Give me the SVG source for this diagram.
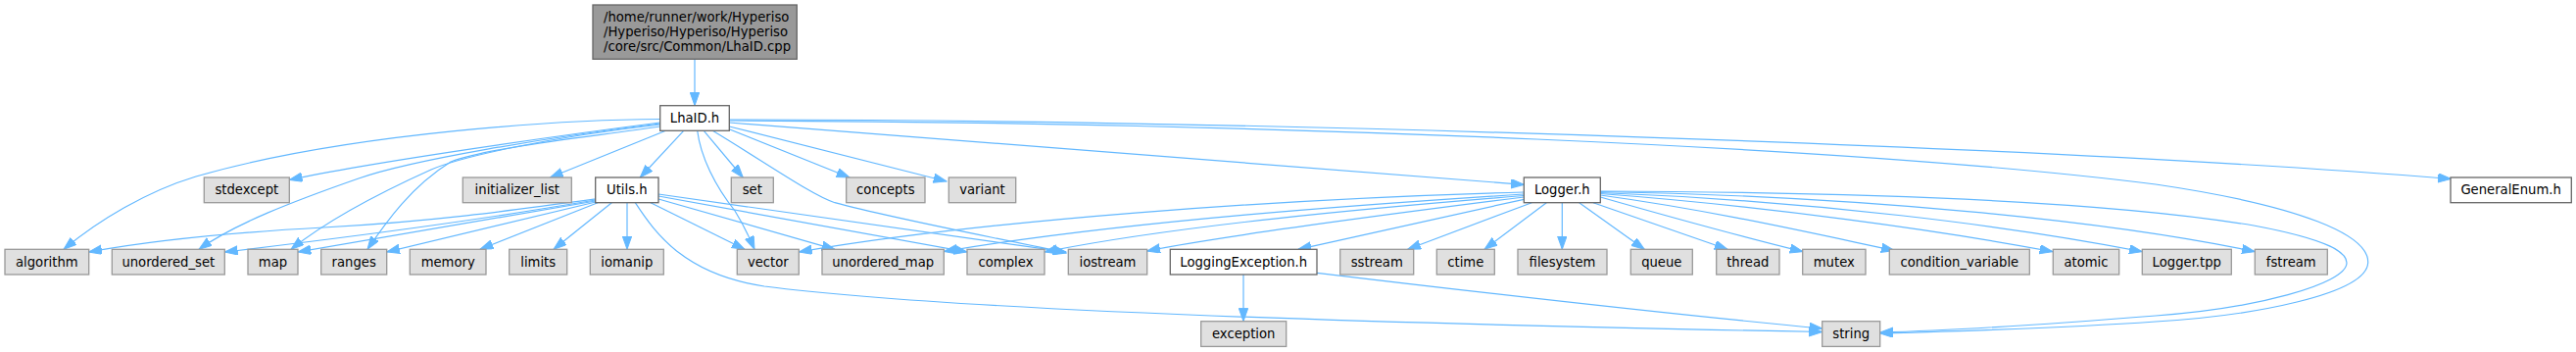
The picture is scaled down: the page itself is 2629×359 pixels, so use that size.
<svg xmlns="http://www.w3.org/2000/svg" width="2629" height="359" viewBox="0 0 2629 359">
<defs>
<style>
.n rect{stroke-width:1.3}
.w rect{fill:#ffffff;stroke:#666666}
.g rect{fill:#e0e0e0;stroke:#999999}
.t rect{fill:#999999;stroke:#666666}
text{font-family:"DejaVu Sans","Liberation Sans",sans-serif;font-size:13.2px;fill:#000000;text-anchor:middle}
#edges path{fill:none;stroke:#63b8ff;stroke-width:1.2;marker-end:url(#ah)}
</style>
<marker id="ah" markerUnits="userSpaceOnUse" markerWidth="14" markerHeight="10" refX="13.3" refY="4.7" orient="auto" viewBox="0 0 14 10">
<path d="M0,0 L13.3,4.7 L0,9.4 z" fill="#63b8ff" stroke="#63b8ff" stroke-width="1"/>
</marker>
</defs>
<rect width="2629" height="359" fill="#ffffff"/>
<g id="edges">
<path d="M709,60.3 L709,107.7"/>
<path d="M673.7,121.5 C586,122 360,134 200,180 C150,195 100,225 65,254.3"/>
<path d="M673.7,125 C580,137 380,165 295.3,183.5"/>
<path d="M673.7,126 C560,140 420,163 366,182 C300,205 240,228 203,254.3"/>
<path d="M673.7,127 C560,140 470,160 440,173 C380,200 330,228 297,254.3"/>
<path d="M673.7,129 C600,140 500,150 460,165 C420,190 395,225 375,254.3"/>
<path d="M679.5,133.3 L561.5,181"/>
<path d="M697.7,133.3 L653.3,181"/>
<path d="M711.7,133.3 C715,160 730,190 750,215 C758,228 764,240 770,254.3"/>
<path d="M718.3,133.3 L758.3,181"/>
<path d="M727.3,133.3 C780,165 830,200 852,206.7 C920,225 1030,245 1088,258"/>
<path d="M743.5,131.5 L867,181"/>
<path d="M744.3,129 L966,185"/>
<path d="M744.3,125 L1555.3,188.3"/>
<path d="M744.3,122 C1300,122 2100,150 2501.5,182.5"/>
<path d="M744.3,123 C1300,125 1900,150 2200,188 C2350,210 2418,240 2416.7,268 C2415,300 2300,322 2200,328 C2100,335 1990,338 1919,340"/>
<path d="M1633.3,195 C1900,196 2150,205 2300,230 C2380,245 2395,258 2395,268 C2395,290 2300,315 2200,322 C2100,330 1990,337 1919,339"/>
<path d="M648.3,206.7 C670,240 700,280 780,292 C1000,320 1500,332 1859.7,338.5"/>
<path d="M1344,278.3 C1500,297 1700,320 1859.7,335"/>
<path d="M1269,279.9 L1269,327.7"/>
<path d="M607.7,203 C520,215 440,226 330,232 C220,238 140,248 90.7,257"/>
<path d="M607.7,204 C530,217 440,232 229.3,257"/>
<path d="M607.7,205 L304,257"/>
<path d="M608,206 L394.7,257"/>
<path d="M610,206.7 L490,254.3"/>
<path d="M624.3,206.7 L565,254.3"/>
<path d="M640,206.7 L640,254.3"/>
<path d="M664,206.7 L760,254.3"/>
<path d="M672,203 L852,254.3"/>
<path d="M672,200 L987,257"/>
<path d="M672,198 L1088,257"/>
<path d="M1555.3,196 C1300,203 1000,225 815.3,257"/>
<path d="M1555.3,198 C1400,208 1150,225 963.3,256.5"/>
<path d="M1555.3,199.5 C1400,212 1200,230 1066,257"/>
<path d="M1555.3,201 C1420,218 1250,240 1170.7,256"/>
<path d="M1555.3,203.3 L1325,254.3"/>
<path d="M1563.3,206.7 L1436.7,254.3"/>
<path d="M1578.3,206.7 L1515,254.3"/>
<path d="M1594.3,206.7 L1594.3,254.3"/>
<path d="M1611.7,206.7 L1678.3,254.3"/>
<path d="M1626,206.7 L1763,254.3"/>
<path d="M1633.3,201 C1700,220 1780,242 1840,256.7"/>
<path d="M1633.3,199 C1750,215 1850,238 1933.3,255.5"/>
<path d="M1633.3,197.5 C1800,210 1980,235 2095,256.7"/>
<path d="M1633.3,196.5 C1850,205 2050,230 2186.3,256.7"/>
<path d="M1633.3,195.5 C1900,200 2150,225 2301.3,256.7"/>
</g>
<g id="node_top" class="n t"><rect x="605" y="5" width="208.3" height="55.3"/>
<text x="616" y="21.5" style="text-anchor:start">/home/runner/work/Hyperiso</text>
<text x="616" y="36.5" style="text-anchor:start">/Hyperiso/Hyperiso/Hyperiso</text>
<text x="616" y="51.5" style="text-anchor:start">/core/src/Common/LhaID.cpp</text></g>
<g id="node_LhaID" class="n w"><rect x="673.7" y="107.7" width="70.6" height="25.6"/><text x="709" y="125">LhaID.h</text></g>
<g id="node_stdexcept" class="n g"><rect x="208.3" y="181" width="87" height="25.7"/><text x="251.8" y="198.4">stdexcept</text></g>
<g id="node_initializer_list" class="n g"><rect x="472.3" y="181" width="111" height="25.7"/><text x="527.8" y="198.4">initializer_list</text></g>
<g id="node_Utils" class="n w"><rect x="607.7" y="181" width="64.3" height="25.7"/><text x="639.8" y="198.4">Utils.h</text></g>
<g id="node_set" class="n g"><rect x="746.3" y="181" width="43" height="25.7"/><text x="767.8" y="198.4">set</text></g>
<g id="node_concepts" class="n g"><rect x="863.7" y="181" width="80.3" height="25.7"/><text x="903.8" y="198.4">concepts</text></g>
<g id="node_variant" class="n g"><rect x="968.3" y="181" width="68.4" height="25.7"/><text x="1002.5" y="198.4">variant</text></g>
<g id="node_Logger" class="n w"><rect x="1555.3" y="181" width="78" height="25.7"/><text x="1594.3" y="198.4">Logger.h</text></g>
<g id="node_GeneralEnum" class="n w"><rect x="2501" y="181" width="123.3" height="25.7"/><text x="2562.6" y="198.4">GeneralEnum.h</text></g>
<g id="node_algorithm" class="n g"><rect x="5" y="254.3" width="85.7" height="25.7"/><text x="47.8" y="271.7">algorithm</text></g>
<g id="node_unordered_set" class="n g"><rect x="114.3" y="254.3" width="115" height="25.7"/><text x="171.8" y="271.7">unordered_set</text></g>
<g id="node_map" class="n g"><rect x="253" y="254.3" width="51" height="25.7"/><text x="278.5" y="271.7">map</text></g>
<g id="node_ranges" class="n g"><rect x="327.7" y="254.3" width="67" height="25.7"/><text x="361.2" y="271.7">ranges</text></g>
<g id="node_memory" class="n g"><rect x="418.3" y="254.3" width="77.7" height="25.7"/><text x="457.2" y="271.7">memory</text></g>
<g id="node_limits" class="n g"><rect x="519.7" y="254.3" width="59" height="25.7"/><text x="549.2" y="271.7">limits</text></g>
<g id="node_iomanip" class="n g"><rect x="602.3" y="254.3" width="75" height="25.7"/><text x="639.8" y="271.7">iomanip</text></g>
<g id="node_vector" class="n g"><rect x="752.3" y="254.3" width="63" height="25.7"/><text x="783.8" y="271.7">vector</text></g>
<g id="node_unordered_map" class="n g"><rect x="839" y="254.3" width="124.3" height="25.7"/><text x="901.2" y="271.7">unordered_map</text></g>
<g id="node_complex" class="n g"><rect x="987" y="254.3" width="79" height="25.7"/><text x="1026.5" y="271.7">complex</text></g>
<g id="node_iostream" class="n g"><rect x="1090.3" y="254.3" width="80.4" height="25.7"/><text x="1130.5" y="271.7">iostream</text></g>
<g id="node_LoggingException" class="n w"><rect x="1194.3" y="254.3" width="149.7" height="25.7"/><text x="1269.2" y="271.7">LoggingException.h</text></g>
<g id="node_sstream" class="n g"><rect x="1367.7" y="254.3" width="75" height="25.7"/><text x="1405.2" y="271.7">sstream</text></g>
<g id="node_ctime" class="n g"><rect x="1466.3" y="254.3" width="59" height="25.7"/><text x="1495.8" y="271.7">ctime</text></g>
<g id="node_filesystem" class="n g"><rect x="1549" y="254.3" width="91" height="25.7"/><text x="1594.5" y="271.7">filesystem</text></g>
<g id="node_queue" class="n g"><rect x="1664.3" y="254.3" width="63" height="25.7"/><text x="1695.8" y="271.7">queue</text></g>
<g id="node_thread" class="n g"><rect x="1751.7" y="254.3" width="64.3" height="25.7"/><text x="1783.8" y="271.7">thread</text></g>
<g id="node_mutex" class="n g"><rect x="1839.7" y="254.3" width="64.3" height="25.7"/><text x="1871.8" y="271.7">mutex</text></g>
<g id="node_condition_variable" class="n g"><rect x="1928.3" y="254.3" width="143" height="25.7"/><text x="1999.8" y="271.7">condition_variable</text></g>
<g id="node_atomic" class="n g"><rect x="2095.3" y="254.3" width="67.4" height="25.7"/><text x="2129" y="271.7">atomic</text></g>
<g id="node_Logger_tpp" class="n g"><rect x="2186.3" y="254.3" width="91" height="25.7"/><text x="2231.8" y="271.7">Logger.tpp</text></g>
<g id="node_fstream" class="n g"><rect x="2301.3" y="254.3" width="74" height="25.7"/><text x="2338.3" y="271.7">fstream</text></g>
<g id="node_exception" class="n g"><rect x="1225.7" y="327.7" width="87" height="25.7"/><text x="1269.2" y="345.1">exception</text></g>
<g id="node_string" class="n g"><rect x="1859.7" y="327.7" width="59" height="25.7"/><text x="1889.2" y="345.1">string</text></g>
</svg>
